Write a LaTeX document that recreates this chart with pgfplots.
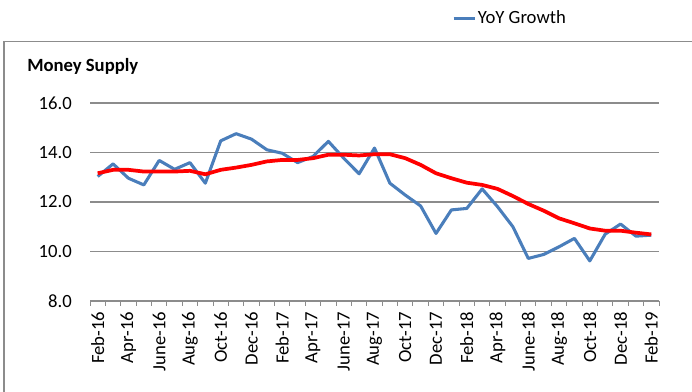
\documentclass[border=0pt]{standalone}
\usepackage{pgfplots}
\pgfplotsset{compat=1.18}
\usepackage{fontspec}
\setmainfont{Carlito}

\definecolor{yoyblue}{HTML}{4A7EBB}
\definecolor{gridgray}{HTML}{8C8C8C}
\definecolor{framegray}{HTML}{8C8C8C}

% Monthly money supply growth, Feb-16 .. Feb-19 (37 months)
\pgfplotstableread{
idx yoy   trend
0   13.03 13.16
1   13.54 13.30
2   12.96 13.30
3   12.69 13.23
4   13.68 13.23
5   13.32 13.23
6   13.59 13.26
7   12.76 13.12
8   14.47 13.30
9   14.76 13.39
10  14.54 13.50
11  14.11 13.64
12  13.97 13.70
13  13.59 13.70
14  13.84 13.77
15  14.45 13.91
16  13.77 13.91
17  13.14 13.88
18  14.18 13.93
19  12.76 13.93
20  12.28 13.77
21  11.84 13.50
22  10.73 13.16
23  11.68 12.96
24  11.74 12.78
25  12.53 12.69
26  11.81 12.53
27  11.00 12.24
28  9.72  11.92
29  9.88  11.65
30  10.19 11.34
31  10.53 11.14
32  9.62  10.93
33  10.70 10.84
34  11.11 10.84
35  10.62 10.76
36  10.66 10.69
}\moneydata

\begin{document}
\begin{tikzpicture}
% frame around the chart area (left and top edges)
\draw[framegray, line width=1.1pt] (3pt,-20pt) -- (3pt,263pt) -- (540pt,263pt);

\begin{axis}[
  at={(67.5pt,68.25pt)}, anchor=south west,
  scale only axis,
  width=426.75pt, height=148.5pt,
  xmin=-0.5, xmax=36.5,
  ymin=8, ymax=16,
  ytick={8,10,...,16},
  xtick={0,2,...,36},
  xticklabels={Feb-16,Apr-16,June-16,Aug-16,Oct-16,Dec-16,Feb-17,Apr-17,June-17,Aug-17,Oct-17,Dec-17,Feb-18,Apr-18,June-18,Aug-18,Oct-18,Dec-18,Feb-19},
  minor xtick={-0.5,0.5,...,36.5},
  major tick length=0pt,
  minor tick length=3.5pt,
  tick align=outside,
  minor x tick style={gridgray, line width=0.75pt},
  axis lines*=left,
  separate axis lines,
  x axis line style={gridgray, line width=0.9pt},
  y axis line style={draw=none},
  ymajorgrids,
  major grid style={gridgray, line width=0.9pt},
  /pgf/number format/assume math mode=true,
  yticklabel={\pgfmathprintnumber[fixed,fixed zerofill,precision=1]{\tick}},
  ticklabel style={font=\fontsize{14}{16}\selectfont, inner sep=0pt},
  xticklabel style={rotate=90, anchor=east},
  xticklabel shift=8pt,
  yticklabel shift=13.5pt,
  legend style={at={(axis description cs:0.636,1.429)}, anchor=west,
    draw=none, fill=none, inner sep=0pt,
    font=\fontsize{14}{16}\selectfont,
    nodes={inner sep=1pt}},
  legend image code/.code={\draw[#1] (0pt,0pt) -- (16pt,0pt);},
  clip=false,
]
\addplot[yoyblue, line width=2.3pt, line join=round] table[x=idx, y=yoy] {\moneydata};
\addlegendentry{YoY Growth}
\addplot[red, line width=2.8pt, line join=round, forget plot] table[x=idx, y=trend] {\moneydata};
\end{axis}

\node[anchor=west, inner sep=0pt, font=\fontsize{14}{16}\selectfont\bfseries] at (20.25pt,244.5pt) {Money Supply};

\pgfresetboundingbox
\useasboundingbox (0pt,0pt) rectangle (519pt,294pt);
\end{tikzpicture}
\end{document}
